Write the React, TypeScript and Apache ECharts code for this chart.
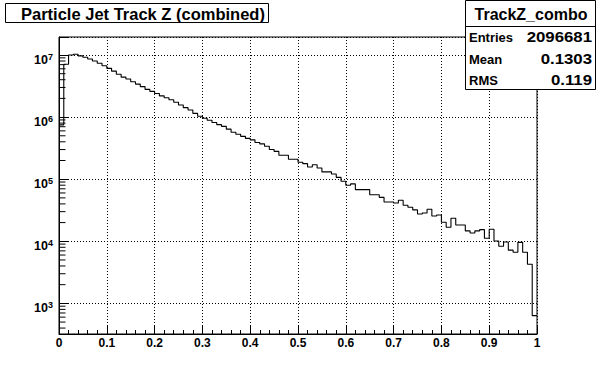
import React, { useEffect, useRef } from "react";
import * as echarts from "echarts";

// Histogram: 100 bins between 0 and 1 (bin contents)
const BIN_WIDTH = 0.01;
const binCounts = [
  7.5e5, 7.1e6, 1.0e7, 1.03e7, 9.7e6, 9.2e6, 8.6e6, 8.0e6, 7.35e6, 6.7e6,
  6.1e6, 5.5e6, 4.9e6, 4.4e6, 4.1e6, 3.7e6, 3.4e6, 3.1e6, 2.8e6, 2.6e6,
  2.4e6, 2.2e6, 2.05e6, 1.9e6, 1.73e6, 1.57e6, 1.42e6, 1.3e6, 1.15e6, 1.03e6,
  9.6e5, 8.9e5, 8.2e5, 7.55e5, 7.1e5, 6.4e5, 5.7e5, 5.3e5, 4.9e5, 4.55e5,
  4.3e5, 3.9e5, 3.7e5, 3.4e5, 3.0e5, 2.8e5, 2.43e5, 2.43e5, 2.1e5, 2.1e5,
  1.87e5, 1.78e5, 1.57e5, 1.71e5, 1.51e5, 1.31e5, 1.31e5, 1.21e5, 1.07e5, 9.25e4,
  7.98e4, 8.4e4, 6.8e4, 6.8e4, 6.8e4, 5.6e4, 5.6e4, 5.1e4, 4.3e4, 4.3e4,
  4.14e4, 4.57e4, 3.8e4, 3.53e4, 3.2e4, 2.75e4, 2.86e4, 3.27e4, 2.55e4, 2.65e4,
  2.02e4, 1.68e4, 2.35e4, 1.83e4, 1.83e4, 1.47e4, 1.36e4, 1.47e4, 1.54e4, 1.12e4,
  1.56e4, 1.01e4, 8.3e3, 9.75e3, 7.2e3, 6.65e3, 9.6e3, 6.65e3, 4.27e3, 634,
];

const X_MIN = 0;
const X_MAX = 1;
const X_INTERVAL = 0.1;
const Y_MIN = 321;
const Y_MAX = 1.95e7;

const titleText = "Particle Jet Track Z (combined)";
const statsTitle = "TrackZ_combo";
const statsLabels = ["Entries", "Mean", "RMS"];
const statsValues = ["2096681", "0.1303", "0.119"];

// decades that carry minor ticks (2..9 x 10^n)
const minorDecades = [2, 3, 4, 5, 6, 7];
const minorMultipliers = [2, 3, 4, 5, 6, 7, 8, 9];

const FONT = "Liberation Sans";

export default function App() {
  const ref = useRef<HTMLDivElement>(null);

  useEffect(() => {
    if (!ref.current) return;
    const chart = echarts.init(ref.current, null, { renderer: "svg" });

    const stepData: [number, number][] = binCounts.map((v, i) => [X_MIN + i * BIN_WIDTH, v]);
    stepData.push([X_MAX, binCounts[binCounts.length - 1]]);

    const minorTicks: [number, number][] = [];
    minorDecades.forEach((d) =>
      minorMultipliers.forEach((m) => {
        const v = m * Math.pow(10, d);
        if (v > Y_MIN && v < Y_MAX) minorTicks.push([X_MIN, v]);
      })
    );

    const statsX = 465;
    const statsW = 130;
    const rowYs = [37, 59, 80];

    chart.setOption({
      animation: false,
      backgroundColor: "#ffffff",
      grid: {
        left: 59,
        top: 37,
        right: 59,
        bottom: 38,
        show: true,
        borderColor: "#000",
        borderWidth: 1,
      },
      xAxis: {
        type: "value",
        min: X_MIN,
        max: X_MAX,
        interval: X_INTERVAL,
        axisLine: { show: true, lineStyle: { color: "#000", width: 1 } },
        axisTick: { show: true, inside: true, length: 9, lineStyle: { color: "#000" } },
        minorTick: { show: true, splitNumber: 5, length: 4, lineStyle: { color: "#000" } },
        splitLine: { show: true, lineStyle: { color: "#000", type: [1, 2], width: 1 } },
        axisLabel: {
          color: "#000",
          fontFamily: FONT,
          fontWeight: "bold",
          fontSize: 12,
          margin: 3,
        },
      },
      yAxis: {
        type: "log",
        logBase: 10,
        min: Y_MIN,
        max: Y_MAX,
        axisLine: { show: true, lineStyle: { color: "#000", width: 1 } },
        axisTick: { show: true, inside: true, length: 9, lineStyle: { color: "#000" } },
        splitLine: { show: true, lineStyle: { color: "#000", type: [1, 2], width: 1 } },
        axisLabel: {
          color: "#000",
          margin: 6,
          padding: [8, 0, 0, 0],
          formatter: (v: number) => {
            const e = Math.log10(v);
            if (Math.abs(e - Math.round(e)) > 1e-6) return "";
            return `{b|10}{s|${Math.round(e)}}`;
          },
          rich: {
            b: {
              fontFamily: FONT,
              fontWeight: "bold",
              fontSize: 12.5,
              lineHeight: 14,
              padding: [1, 0, 0, 0],
              verticalAlign: "bottom",
              color: "#000",
            },
            s: {
              fontFamily: FONT,
              fontWeight: "bold",
              fontSize: 9,
              lineHeight: 9,
              verticalAlign: "top",
              color: "#000",
            },
          },
        },
      },
      series: [
        {
          type: "line",
          data: stepData,
          step: "end",
          showSymbol: false,
          symbol: "none",
          lineStyle: { color: "#000", width: 1.1 },
          z: 5,
        },
        {
          type: "custom",
          data: minorTicks,
          silent: true,
          z: 4,
          renderItem: (params: any, api: any) => {
            const p = api.coord([api.value(0), api.value(1)]);
            return {
              type: "line",
              shape: { x1: p[0], y1: p[1], x2: p[0] + 6.5, y2: p[1] },
              style: { stroke: "#000", lineWidth: 1 },
            };
          },
        },
      ],
      graphic: [
        {
          type: "rect",
          z: 100,
          shape: { x: 5.5, y: 3.5, width: 263, height: 19 },
          style: { fill: "#fff", stroke: "#000", lineWidth: 1 },
        },
        {
          type: "text",
          z: 101,
          x: 21,
          y: 13.5,
          style: {
            text: titleText,
            font: `bold 16.5px "${FONT}"`,
            fill: "#000",
            textVerticalAlign: "middle",
          },
        },
        {
          type: "rect",
          z: 100,
          shape: { x: statsX + 0.5, y: 0.5, width: statsW, height: 89 },
          style: { fill: "#fff", stroke: "#000", lineWidth: 1 },
        },
        {
          type: "line",
          z: 101,
          shape: { x1: statsX, y1: 26.5, x2: statsX + statsW, y2: 26.5 },
          style: { stroke: "#000", lineWidth: 1 },
        },
        {
          type: "text",
          z: 101,
          x: statsX + statsW / 2 + 1,
          y: 14,
          style: {
            text: statsTitle,
            font: `bold 16px "${FONT}"`,
            fill: "#000",
            textAlign: "center",
            textVerticalAlign: "middle",
          },
        },
        ...statsLabels.map((t, i) => ({
          type: "text",
          z: 101,
          x: statsX + 4,
          y: rowYs[i],
          style: {
            text: t,
            font: `bold 13px "${FONT}"`,
            fill: "#000",
            textVerticalAlign: "middle",
          },
        })),
        ...statsValues.map((t, i) => ({
          type: "text",
          z: 101,
          x: statsX + statsW - 3,
          y: rowYs[i],
          scaleX: 1.2,
          style: {
            text: t,
            font: `bold 14px "${FONT}"`,
            fill: "#000",
            textAlign: "right",
            textVerticalAlign: "middle",
          },
        })),
      ],
    });

    return () => chart.dispose();
  }, []);

  return (
    <div
      ref={ref}
      style={{ position: "fixed", left: 0, top: 0, width: 596, height: 372, background: "#fff" }}
    />
  );
}
